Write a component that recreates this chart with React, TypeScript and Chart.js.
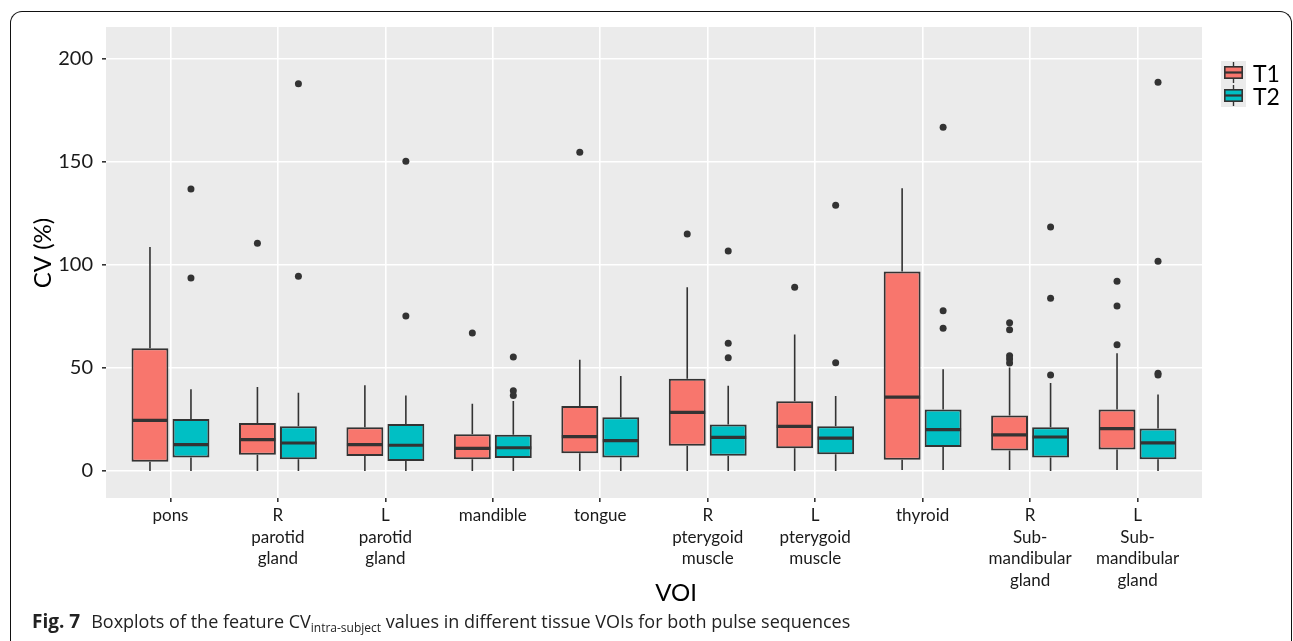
import React, { useEffect, useRef } from "react";
import { Chart, registerables } from "chart.js";

Chart.register(...registerables);

// ---- Data ----
const categories: string[][] = [
  ["pons"],
  ["R", "parotid", "gland"],
  ["L", "parotid", "gland"],
  ["mandible"],
  ["tongue"],
  ["R", "pterygoid", "muscle"],
  ["L", "pterygoid", "muscle"],
  ["thyroid"],
  ["R", "Sub-", "mandibular", "gland"],
  ["L", "Sub-", "mandibular", "gland"],
];

const yTicks = [0, 50, 100, 150, 200];

// T1 series
const t1Min = [0, 0, 0, 0, 0, 0, 0, 0.5, 0.5, 0.5];
const t1Q1 = [4.5, 7.9, 7.3, 5.7, 8.6, 12.3, 11.0, 5.5, 10.0, 10.5];
const t1Median = [24.6, 15.2, 12.8, 11.0, 16.7, 28.5, 21.7, 35.9, 17.5, 20.6];
const t1Q3 = [59.6, 23.3, 21.2, 17.8, 31.6, 44.8, 33.8, 96.8, 27.0, 29.9];
const t1Max = [108.7, 40.8, 41.6, 32.7, 54.0, 89.2, 66.3, 137.2, 50.2, 57.1];
const t1Outliers: number[][] = [
  [],
  [110.5],
  [],
  [67.0],
  [154.7],
  [115.0],
  [89.2],
  [],
  [72.0, 68.6, 56.0, 54.4, 52.4],
  [92.1, 80.1, 61.3],
];

// T2 series
const t2Min = [0, 0, 0, 0, 0, 0, 0, 0.5, 0, 0];
const t2Q1 = [6.5, 5.7, 4.9, 6.3, 6.6, 7.4, 8.1, 11.7, 6.5, 5.7];
const t2Median = [12.8, 13.6, 12.5, 11.3, 14.7, 16.3, 16.0, 20.1, 16.5, 13.7];
const t2Q3 = [25.2, 21.7, 22.8, 17.6, 26.1, 22.6, 21.7, 29.8, 21.2, 20.6];
const t2Max = [39.7, 38.0, 36.6, 34.0, 46.1, 41.4, 36.4, 49.4, 42.7, 37.1];
const t2Outliers: number[][] = [
  [136.9, 93.7],
  [188.0, 94.5],
  [150.3, 75.2],
  [55.3, 39.0, 36.7],
  [],
  [106.8, 62.0, 55.0],
  [129.0, 52.6],
  [166.8, 77.8, 69.3],
  [118.4, 83.8, 46.6],
  [188.7, 101.8, 47.5, 46.6],
];

const seriesNames = ["T1", "T2"];
const seriesColors = ["#F8766D", "#00BFC4"];

const stats = [
  { min: t1Min, q1: t1Q1, median: t1Median, q3: t1Q3, max: t1Max, outliers: t1Outliers },
  { min: t2Min, q1: t2Q1, median: t2Median, q3: t2Q3, max: t2Max, outliers: t2Outliers },
];

const FONT = "Lato, 'Open Sans', sans-serif";
const INK = "#333333";

const boxPlugin = {
  id: "boxExtras",
  beforeDraw(chart: any) {
    const { ctx, chartArea: a } = chart;
    ctx.save();
    ctx.fillStyle = "#EBEBEB";
    ctx.fillRect(a.left, a.top, a.right - a.left, a.bottom - a.top);
    ctx.restore();
  },
  beforeDatasetsDraw(chart: any) {
    const { ctx } = chart;
    const y = chart.scales.y;
    ctx.save();
    ctx.strokeStyle = INK;
    ctx.lineWidth = 1.6;
    stats.forEach((s, d) => {
      const meta = chart.getDatasetMeta(d);
      meta.data.forEach((el: any, i: number) => {
        const x = el.x;
        ctx.beginPath();
        ctx.moveTo(x, y.getPixelForValue(s.max[i]));
        ctx.lineTo(x, y.getPixelForValue(s.q3[i]));
        ctx.moveTo(x, y.getPixelForValue(s.q1[i]));
        ctx.lineTo(x, y.getPixelForValue(s.min[i]));
        ctx.stroke();
      });
    });
    ctx.restore();
  },
  afterDatasetsDraw(chart: any) {
    const { ctx } = chart;
    const y = chart.scales.y;
    ctx.save();
    stats.forEach((s, d) => {
      const meta = chart.getDatasetMeta(d);
      meta.data.forEach((el: any, i: number) => {
        const x = el.x;
        const w = el.width;
        const my = y.getPixelForValue(s.median[i]);
        ctx.strokeStyle = INK;
        ctx.lineWidth = 3.2;
        ctx.beginPath();
        ctx.moveTo(x - w / 2 + 0.5, my);
        ctx.lineTo(x + w / 2 - 0.5, my);
        ctx.stroke();
        ctx.fillStyle = INK;
        s.outliers[i].forEach((v) => {
          ctx.beginPath();
          ctx.arc(x, y.getPixelForValue(v), 3.5, 0, Math.PI * 2);
          ctx.fill();
        });
      });
    });
    ctx.restore();
  },
  afterDraw(chart: any) {
    const { ctx, chartArea: a } = chart;
    ctx.save();
    // axis titles
    ctx.fillStyle = "#000";
    ctx.font = `24px ${FONT}`;
    ctx.textAlign = "center";
    ctx.textBaseline = "middle";
    ctx.fillText("VOI", 676, 593);
    ctx.save();
    ctx.translate(43, 253);
    ctx.rotate(-Math.PI / 2);
    ctx.fillText("CV (%)", 0, 0);
    ctx.restore();

    // legend
    const keyX = a.right + 19;
    const keyW = 25;
    const keyH = 23;
    const keyTop = 61;
    seriesNames.forEach((name, k) => {
      const top = keyTop + k * keyH;
      ctx.fillStyle = "#EBEBEB";
      ctx.fillRect(keyX, top, keyW, keyH);
      const cx = keyX + keyW / 2;
      ctx.strokeStyle = INK;
      ctx.lineWidth = 1.4;
      ctx.beginPath();
      ctx.moveTo(cx, top + 1);
      ctx.lineTo(cx, top + keyH - 1);
      ctx.stroke();
      const bx = keyX + 3;
      const bw = keyW - 6;
      const by = top + 5;
      const bh = 13;
      ctx.fillStyle = seriesColors[k];
      ctx.fillRect(bx, by, bw, bh);
      ctx.lineWidth = 1.6;
      ctx.strokeRect(bx + 0.8, by + 0.8, bw - 1.6, bh - 1.6);
      ctx.lineWidth = 2.2;
      ctx.beginPath();
      ctx.moveTo(bx, by + bh / 2);
      ctx.lineTo(bx + bw, by + bh / 2);
      ctx.stroke();
      ctx.fillStyle = "#000";
      ctx.font = `23px ${FONT}`;
      ctx.textAlign = "left";
      ctx.textBaseline = "middle";
      ctx.fillText(name, keyX + keyW + 7, top + keyH / 2 + 2);
    });
    ctx.restore();
  },
};

export default function App() {
  const canvasRef = useRef<HTMLCanvasElement | null>(null);

  useEffect(() => {
    document.body.style.margin = "0";
    const canvas = canvasRef.current;
    if (!canvas) return;

    const datasets = stats.map((s, d) => ({
      label: seriesNames[d],
      data: categories.map((_, i) => ({ x: i, y: [s.q1[i], s.q3[i]] })),
      backgroundColor: seriesColors[d],
      borderColor: INK,
      borderWidth: 2,
      borderSkipped: false,
      categoryPercentage: 0.763,
      barPercentage: 0.9,
    }));

    const chart = new Chart(canvas, {
      type: "bar",
      data: { datasets } as any,
      plugins: [boxPlugin],
      options: {
        animation: false,
        responsive: false,
        devicePixelRatio: 1,
        layout: { padding: { left: 0, top: 27, right: 91, bottom: 0 } },
        plugins: {
          legend: { display: false },
          tooltip: { enabled: false },
        },
        scales: {
          x: {
            type: "linear",
            min: -0.6,
            max: 9.6,
            offset: false,
            afterBuildTicks: (axis: any) => {
              axis.ticks = categories.map((_, i) => ({ value: i }));
            },
            afterFit: (axis: any) => {
              axis.height = 143;
            },
            grid: {
              offset: false,
              color: "#FFFFFF",
              lineWidth: 1.6,
              tickColor: INK,
              tickLength: 4,
            },
            border: { display: false },
            ticks: {
              autoSkip: false,
              maxRotation: 0,
              minRotation: 0,
              padding: 3,
              color: "#1a1a1a",
              font: { family: FONT, size: 17, lineHeight: 1.27 },
              callback: (v: any) => categories[Math.round(Number(v))] ?? "",
            },
          },
          y: {
            type: "linear",
            min: -13.1,
            max: 215.5,
            afterBuildTicks: (axis: any) => {
              axis.ticks = yTicks.map((v) => ({ value: v }));
            },
            afterFit: (axis: any) => {
              axis.width = 106;
            },
            grid: {
              color: "#FFFFFF",
              lineWidth: 1.6,
              tickColor: INK,
              tickLength: 4,
            },
            border: { display: false },
            ticks: {
              padding: 9,
              color: "#1a1a1a",
              font: { family: FONT, size: 20 },
            },
          },
        },
      } as any,
    });

    return () => chart.destroy();
  }, []);

  return (
    <div style={{ position: "relative", width: 1293, height: 641, overflow: "hidden", background: "#fff" }}>
      <canvas ref={canvasRef} width={1293} height={641} style={{ position: "absolute", left: 0, top: 0 }} />
      <div
        style={{
          position: "absolute",
          left: 10,
          top: 11,
          width: 1282,
          height: 720,
          boxSizing: "border-box",
          borderTop: "1.5px solid #111",
          borderLeft: "1.5px solid #111",
          borderRight: "1.5px solid #111",
          borderTopLeftRadius: 12,
          borderTopRightRadius: 12,
          pointerEvents: "none",
        }}
      />
      <div
        style={{
          position: "absolute",
          left: 32,
          top: 611,
          whiteSpace: "nowrap",
          fontFamily: "'Open Sans', sans-serif",
          fontSize: 18,
          lineHeight: "20px",
          color: "#222",
        }}
      >
        <b style={{ fontSize: 19 }}>Fig. 7</b>
        <span style={{ marginLeft: 11 }}>Boxplots of the feature CV</span>
        <sub style={{ fontSize: 12, verticalAlign: "-4px", lineHeight: 0 }}>intra-subject</sub>
        <span> values in different tissue VOIs for both pulse sequences</span>
      </div>
    </div>
  );
}
